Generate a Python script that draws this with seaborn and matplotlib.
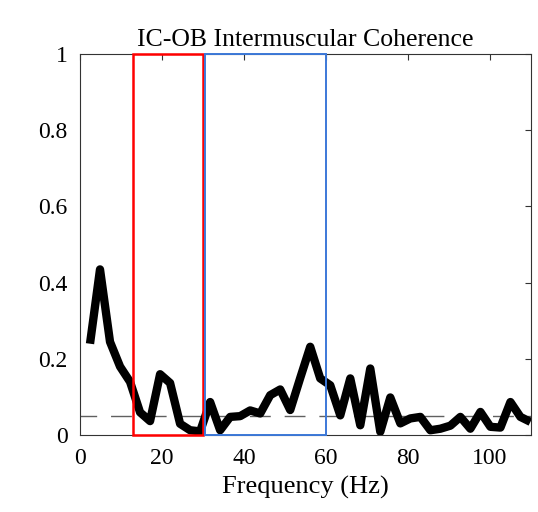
import matplotlib
matplotlib.use("Agg")
import matplotlib.pyplot as plt
import matplotlib.patches as mpatches
import seaborn as sns
import pandas as pd

freq = [2.44, 4.88, 7.32, 9.77, 12.21, 14.65, 17.09, 19.53, 21.97, 24.41,
        26.86, 29.30, 31.74, 34.18, 36.62, 39.06, 41.50, 43.95, 46.39, 48.83,
        51.27, 53.71, 56.15, 58.59, 61.04, 63.48, 65.92, 68.36, 70.80, 73.24,
        75.68, 78.13, 80.57, 83.01, 85.45, 87.89, 90.33, 92.77, 95.21, 97.66,
        100.10, 102.54, 104.98, 107.42, 109.86]
coherence = [0.240, 0.435, 0.245, 0.180, 0.140, 0.060, 0.037, 0.160, 0.137, 0.030,
             0.013, 0.010, 0.087, 0.013, 0.048, 0.050, 0.065, 0.057, 0.105, 0.120,
             0.066, 0.150, 0.232, 0.149, 0.131, 0.052, 0.149, 0.026, 0.175, 0.009,
             0.099, 0.031, 0.044, 0.048, 0.013, 0.017, 0.025, 0.048, 0.017, 0.061,
             0.022, 0.020, 0.087, 0.048, 0.035]
threshold = 0.05
beta_band = (13, 30)
gamma_band = (30, 60)
title = "IC-OB Intermuscular Coherence"
xlabel = "Frequency (Hz)"
xticks = [0, 20, 40, 60, 80, 100]
yticks = [0, 0.2, 0.4, 0.6, 0.8, 1]
ytick_labels = ["0", "0.2", "0.4", "0.6", "0.8", "1"]

sns.set_style("white")
plt.rcParams["font.family"] = ["Liberation Serif", "DejaVu Serif"]

df = pd.DataFrame({"freq": freq, "coh": coherence})

fig = plt.figure(figsize=(5.38, 5.12), dpi=100)
ax = fig.add_axes([0.1487, 0.150, 0.8383, 0.7445])

ax.axhline(threshold, color="#606060", lw=1.0, ls=(3, (15, 10)), zorder=1)
sns.lineplot(data=df, x="freq", y="coh", color="black", lw=6, ax=ax, zorder=3,
             solid_joinstyle="round", solid_capstyle="butt")

ax.add_patch(mpatches.Rectangle((beta_band[0], 0), beta_band[1] - beta_band[0], 1,
                                fill=False, edgecolor="#FF0000", lw=1.8, zorder=4, clip_on=False))
ax.add_patch(mpatches.Rectangle((gamma_band[0] + 0.4, 0), gamma_band[1] - gamma_band[0] - 0.4, 1,
                                fill=False, edgecolor="#3C78D8", lw=1.4, zorder=4, clip_on=False))

ax.set_xlim(0, 110)
ax.set_ylim(0, 1)
ax.set_xticks(xticks)
ax.set_yticks(yticks)
ax.set_yticklabels(ytick_labels)
ax.tick_params(direction="in", length=4, width=0.8, color="#333333", labelcolor="black",
               top=True, right=True, labelsize=17, pad=9)
ax.set_xlabel(xlabel, fontsize=19, labelpad=5, color="black")
ax.set_ylabel("")
ax.set_title(title, fontsize=18.5, pad=6, color="black")
for s in ax.spines.values():
    s.set_color("#333333")
    s.set_linewidth(0.8)

fig.savefig("out.png", dpi=100)
